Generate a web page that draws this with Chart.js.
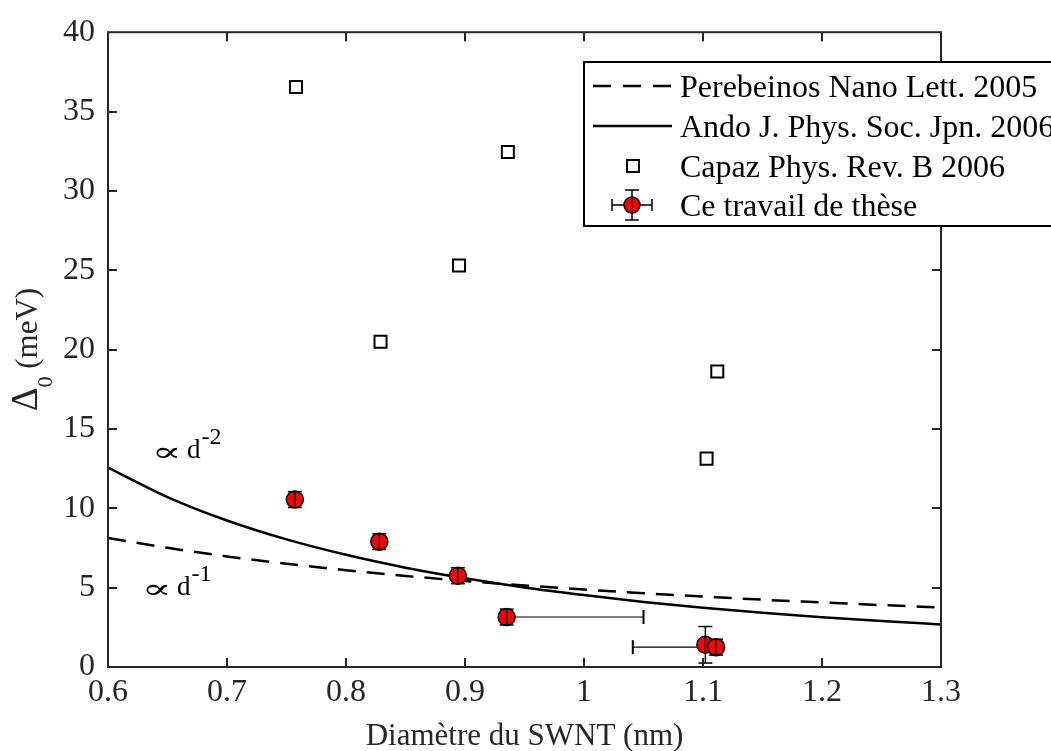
<!DOCTYPE html>
<html><head><meta charset="utf-8">
<script src="https://cdn.jsdelivr.net/npm/chart.js@4"></script>
<style>html,body{margin:0;padding:0;background:#fff;overflow:hidden}#wrap{width:1051px;height:751px}</style>
</head><body><div id="wrap"><canvas id="c" width="1051" height="751"></canvas></div>
<script>
// ---- data ----
const curveX = [0.60,0.65,0.70,0.75,0.80,0.85,0.90,0.95,1.00,1.05,1.10,1.15,1.20,1.25,1.30];
const andoY = [12.57,10.71,9.23,8.04,7.07,6.26,5.59,5.01,4.53,4.10,3.74,3.42,3.14,2.90,2.68];
const perebeinosY = [8.13,7.51,6.97,6.51,6.10,5.74,5.42,5.14,4.88,4.65,4.44,4.24,4.07,3.90,3.75];
const capazX = [0.758,0.829,0.895,0.936,1.103,1.112];
const capazY = [36.55,20.5,25.3,32.45,13.13,18.62];
const thesisX = [0.757,0.828,0.894,0.935,1.102,1.111];
const thesisY = [10.55,7.9,5.75,3.15,1.4,1.25];
const thesisYErr = [0.5,0.5,0.5,0.5,1.15,0.5];
const thesisXErrLow = [0,0,0,0,0,0.07];
const thesisXErrHigh = [0,0,0,0.115,0,0];
const xTicks = [0.6,0.7,0.8,0.9,1.0,1.1,1.2,1.3];
const yTicks = [0,5,10,15,20,25,30,35,40];
const legendLabels = ['Perebeinos Nano Lett. 2005','Ando J. Phys. Soc. Jpn. 2006','Capaz Phys. Rev. B 2006','Ce travail de thèse'];
const xTitle = 'Diamètre du SWNT (nm)';

const SERIF = "'Liberation Serif','Times New Roman','DejaVu Serif',serif";
const SYM = "'Liberation Serif','DejaVu Serif',serif";
const AX = '#262626';
const pts = (xs, ys) => xs.map((v,i)=>({x:v,y:ys[i]}));

function seg(ctx,x1,y1,x2,y2){ctx.beginPath();ctx.moveTo(x1,y1);ctx.lineTo(x2,y2);ctx.stroke();}

const hErrPlugin = {
  id:'hErr',
  beforeDatasetsDraw(chart){
    const {ctx,scales:{x,y}} = chart;
    ctx.save(); ctx.strokeStyle='#000';
    thesisX.forEach((xv,i)=>{
      const px=x.getPixelForValue(xv), py=y.getPixelForValue(thesisY[i]);
      if(thesisXErrHigh[i]>0){const xr=x.getPixelForValue(xv+thesisXErrHigh[i]);ctx.lineWidth=1.2;seg(ctx,px,py,xr,py);ctx.lineWidth=2;seg(ctx,xr,py-7,xr,py+7);}
      if(thesisXErrLow[i]>0){const xl=x.getPixelForValue(xv-thesisXErrLow[i]);ctx.lineWidth=1.2;seg(ctx,xl,py,px,py);ctx.lineWidth=2;seg(ctx,xl,py-7,xl,py+7);}
    });
    ctx.restore();
  },
  afterDatasetsDraw(chart){
    const {ctx,scales:{x,y}} = chart;
    ctx.save(); ctx.strokeStyle='#000'; ctx.lineWidth=1.5;
    thesisX.forEach((xv,i)=>{
      const px=x.getPixelForValue(xv);
      const yt=y.getPixelForValue(thesisY[i]+thesisYErr[i]), yb=y.getPixelForValue(thesisY[i]-thesisYErr[i]);
      seg(ctx,px,yt,px,yb); seg(ctx,px-7,yt,px+7,yt); seg(ctx,px-7,yb,px+7,yb);
    });
    ctx.restore();
  }
};

const framePlugin = {
  id:'frame',
  afterDraw(chart){
    const {ctx,chartArea:a,scales:{x,y}} = chart;
    ctx.save();
    ctx.strokeStyle=AX; ctx.lineWidth=2; ctx.lineCap='square';
    ctx.strokeRect(a.left,a.top,a.right-a.left,a.bottom-a.top);
    ctx.lineCap='butt';
    const TL=9;
    xTicks.forEach(v=>{const px=Math.round(x.getPixelForValue(v));
      if(px<=a.left+1||px>=a.right-1)return;
      seg(ctx,px,a.bottom,px,a.bottom-TL); seg(ctx,px,a.top,px,a.top+TL);});
    yTicks.forEach(v=>{const py=Math.round(y.getPixelForValue(v));
      if(py<=a.top+1||py>=a.bottom-1)return;
      seg(ctx,a.left,py,a.left+TL,py); seg(ctx,a.right,py,a.right-TL,py);});
    // annotations
    ctx.fillStyle='#000'; ctx.textBaseline='alphabetic'; ctx.textAlign='left';
    const ann=(inkLeft,base,sup)=>{
      ctx.font='27px '+SYM; const m=ctx.measureText('\u221D');
      const iw=(m.actualBoundingBoxLeft+m.actualBoundingBoxRight)||12;
      const ih=(m.actualBoundingBoxAscent+m.actualBoundingBoxDescent)||8;
      const scx=Math.min(3,23/iw), scy=Math.min(3,12/ih);
      ctx.save();
      ctx.translate(inkLeft, base-5);
      ctx.scale(scx,scy);
      // put ink left at 0 and ink vertical centre at 0
      ctx.fillText('\u221D', m.actualBoundingBoxLeft, (m.actualBoundingBoxAscent-m.actualBoundingBoxDescent)/2);
      ctx.restore();
      const dx=inkLeft+32;
      ctx.font='27px '+SERIF; ctx.fillText('d',dx,base);
      const w=ctx.measureText('d').width;
      ctx.font='24px '+SERIF; ctx.fillText(sup,dx+w+1,base-14);
    };
    ann(155,458,'-2'); ann(145,595,'-1');
    // x title
    ctx.fillStyle=AX; ctx.font='31px '+SERIF; ctx.textAlign='center';
    ctx.fillText(xTitle,(a.left+a.right)/2,745);
    // y title
    ctx.save(); ctx.translate(37,(a.top+a.bottom)/2); ctx.rotate(-Math.PI/2);
    ctx.font='37px '+SERIF; const w1=ctx.measureText('\u0394').width;
    ctx.font='31px '+SERIF; const w3=ctx.measureText(' (meV)').width;
    ctx.font='22px '+SERIF; const w2=ctx.measureText('0').width;
    let sx=-(w1+w2+w3)/2; ctx.textAlign='left';
    ctx.font='37px '+SERIF; ctx.fillText('\u0394',sx,0); sx+=w1;
    ctx.font='22px '+SERIF; ctx.fillText('0',sx,15); sx+=w2;
    ctx.font='31px '+SERIF; ctx.fillText(' (meV)',sx,0);
    ctx.restore();
    // legend
    const L=584,T=62,B=226,R=1070;
    ctx.fillStyle='#fff'; ctx.fillRect(L,T,R-L,B-T);
    ctx.strokeStyle='#000'; ctx.lineWidth=2; ctx.strokeRect(L,T,R-L,B-T);
    const cy=[86,126,166,205];
    ctx.strokeStyle='#000'; ctx.lineWidth=2.5;
    ctx.setLineDash([18,12]); seg(ctx,593,cy[0],672,cy[0]); ctx.setLineDash([]);
    seg(ctx,593,cy[1],672,cy[1]);
    ctx.lineWidth=2; ctx.strokeRect(627,cy[2]-6,12,12);
    ctx.lineWidth=1.5; seg(ctx,612,cy[3],652,cy[3]); seg(ctx,612,cy[3]-6,612,cy[3]+6); seg(ctx,652,cy[3]-6,652,cy[3]+6);
    seg(ctx,632,cy[3]-15,632,cy[3]+15); seg(ctx,625,cy[3]-15,639,cy[3]-15); seg(ctx,625,cy[3]+15,639,cy[3]+15);
    ctx.beginPath(); ctx.arc(632,cy[3],8,0,Math.PI*2); ctx.fillStyle='#ff0000'; ctx.fill(); ctx.lineWidth=1.5; ctx.stroke();
    seg(ctx,632,cy[3]-8,632,cy[3]+8);
    ctx.fillStyle='#000'; ctx.font='32px '+SERIF; ctx.textAlign='left';
    legendLabels.forEach((t,i)=>ctx.fillText(t,680,cy[i]+11));
    ctx.restore();
  }
};

new Chart(document.getElementById('c'),{
  type:'scatter',
  data:{datasets:[
    {label:legendLabels[0],data:pts(curveX,perebeinosY),showLine:true,borderColor:'#000',borderWidth:2.5,borderDash:[18,11],pointRadius:0,cubicInterpolationMode:'monotone',order:4},
    {label:legendLabels[1],data:pts(curveX,andoY),showLine:true,borderColor:'#000',borderWidth:2.5,pointRadius:0,cubicInterpolationMode:'monotone',order:3},
    {label:legendLabels[2],data:pts(capazX,capazY),pointStyle:'rect',pointRadius:8.5,borderWidth:2,borderColor:'#000',backgroundColor:'rgba(0,0,0,0)',order:2},
    {label:legendLabels[3],data:pts(thesisX,thesisY),pointStyle:'circle',pointRadius:8.5,borderWidth:1.5,borderColor:'#000',backgroundColor:'#ff0000',order:1}
  ]},
  options:{
    responsive:false,animation:false,devicePixelRatio:1,
    layout:{padding:{top:24,right:110,left:0,bottom:0}},
    plugins:{legend:{display:false},tooltip:{enabled:false}},
    scales:{
      x:{type:'linear',min:0.6,max:1.3,
        afterBuildTicks:s=>{s.ticks=xTicks.map(v=>({value:v}));},
        afterFit:s=>{s.height=84;},
        grid:{display:false,drawTicks:false},border:{display:false},
        ticks:{padding:6,color:AX,font:{family:SERIF,size:32},maxRotation:0,autoSkip:false,
          callback:v=>String(Math.round(v*10)/10)}},
      y:{type:'linear',min:0,max:40,
        afterBuildTicks:s=>{s.ticks=yTicks.map(v=>({value:v}));},
        afterFit:s=>{s.width=108;},
        grid:{display:false,drawTicks:false},border:{display:false},
        ticks:{padding:13,color:AX,font:{family:SERIF,size:32},autoSkip:false}}
    }
  },
  plugins:[hErrPlugin,framePlugin]
});
</script></body></html>
